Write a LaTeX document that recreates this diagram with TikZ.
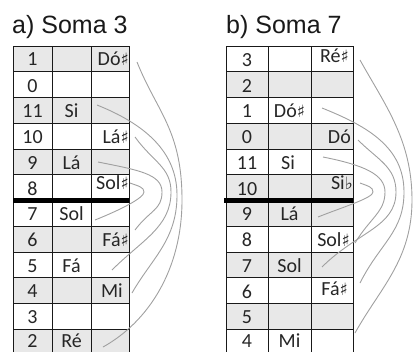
\documentclass[tikz,border=0pt]{standalone}
\usepackage{fontspec}
\setmainfont{Carlito}
\newfontfamily\titlefont{Liberation Sans}
\newfontfamily\symfont{DejaVu Sans}
\newcommand{\shp}{{\symfont\fontsize{17}{17}\selectfont ♯}}
\newcommand{\flt}{{\symfont\fontsize{17}{17}\selectfont ♭}}
\definecolor{cellgray}{RGB}{232,232,232}
\definecolor{curvegray}{RGB}{160,160,160}
\begin{document}
\begin{tikzpicture}[x=1pt,y=-1pt,
  cell/.style={font=\fontsize{20}{20}\selectfont, anchor=base, inner sep=0pt, text=black!85},
  rcell/.style={cell, anchor=base east},
  ttl/.style={font=\titlefont\fontsize{25}{25}\selectfont, anchor=base west, inner sep=0pt, text=black!90},
  gridline/.style={line width=1pt, black!90},
  thickline/.style={line width=4.5pt, black},
  curve/.style={draw=curvegray, line width=0.9pt}]
\useasboundingbox (0,0) rectangle (414,351);
\clip (0,0) rectangle (414,351);
\def\rh{25.75}
% ---------- titles
\node[ttl] (ta) at (12,33) {a) Soma 3};
\node[ttl] (tb) at (226,33) {b) Soma 7};
% ---------- table a
\foreach \i in {0,2,4,7,9,11}
  \fill[cellgray] (13,{46+\i*\rh}) rectangle (129,{46+(\i+1)*\rh});
\foreach \i in {0,...,12}
  \draw[gridline] (13,{46+\i*\rh}) -- (129,{46+\i*\rh});
\foreach \x in {13,52,91,129}
  \draw[gridline] (\x,46) -- (\x,356);
\draw[thickline] (13,200.5) -- (129,200.5);
% ---------- table b
\foreach \i in {1,3,5,6,8,10}
  \fill[cellgray] (226,{46+\i*\rh}) rectangle (353,{46+(\i+1)*\rh});
\foreach \i in {0,...,12}
  \draw[gridline] (226,{46+\i*\rh}) -- (353,{46+\i*\rh});
\foreach \x in {226,268,311,353}
  \draw[gridline] (\x,46) -- (\x,356);
\draw[thickline] (224,200.5) -- (353,200.5);
% ---------- texts a
\node[cell] (a0) at (32.5,65.5) {1};
\node[rcell] (a0s) at (129,65.5) {Dó\shp};
\node[cell] (a1) at (32.5,92.1) {0};
\node[cell] (a2) at (32.5,117.9) {11};
\node[cell] (a2n) at (71.5,117.9) {Si};
\node[cell] (a3) at (32.5,143.6) {10};
\node[rcell] (a3s) at (129,143.6) {Lá\shp};
\node[cell] (a4) at (32.5,169.4) {9};
\node[cell] (a4n) at (71.5,169.4) {Lá};
\node[cell] (a5) at (32.5,195.1) {8};
\node[rcell] (a5s) at (129,189) {Sol\shp};
\node[cell] (a6) at (32.5,220.5) {7};
\node[cell] (a6n) at (71.5,220.5) {Sol};
\node[cell] (a7) at (32.5,246.6) {6};
\node[rcell] (a7s) at (129,246.6) {Fá\shp};
\node[cell] (a8) at (32.5,272.4) {5};
\node[cell] (a8n) at (71.5,272.4) {Fá};
\node[cell] (a9) at (32.5,297) {4};
\node[rcell] (a9s) at (123,297) {Mi};
\node[cell] (a10) at (32.5,323.5) {3};
\node[cell] (a11) at (32.5,347) {2};
\node[cell] (a11n) at (71.5,347) {Ré};
% ---------- texts b
\node[cell] (b0) at (247,66.4) {3};
\node[rcell] (b0s) at (349,62) {Ré\shp};
\node[cell] (b1) at (247,92.1) {2};
\node[cell] (b2) at (247,117.9) {1};
\node[cell] (b2n) at (289.5,117.9) {Dó\shp};
\node[cell] (b3) at (247,143.6) {0};
\node[rcell] (b3s) at (351,143.6) {Dó};
\node[cell] (b4) at (247,169.4) {11};
\node[cell] (b4n) at (288,169.4) {Si};
\node[cell] (b5) at (247,195.1) {10};
\node[rcell] (b5s) at (353,189) {Si\flt};
\node[cell] (b6) at (247,220.9) {9};
\node[cell] (b6n) at (289.5,220.9) {Lá};
\node[cell] (b7) at (247,246.6) {8};
\node[rcell] (b7s) at (350,246.6) {Sol\shp};
\node[cell] (b8) at (247,272.4) {7};
\node[cell] (b8n) at (289.5,272.4) {Sol};
\node[cell] (b9) at (247,298.1) {6};
\node[rcell] (b9s) at (348,295.5) {Fá\shp};
\node[cell] (b10) at (247,323.5) {5};
\node[cell] (b11) at (247,347) {4};
\node[cell] (b11n) at (289.5,347) {Mi};
% ---------- curve end points a
\coordinate (ca1s) at (137,62);  \coordinate (ca1m) at (182,200); \coordinate (ca1e) at (103,347);
\coordinate (ca2s) at (97,105);  \coordinate (ca2m) at (177,195); \coordinate (ca2e) at (132,293);
\coordinate (ca3s) at (135,137); \coordinate (ca3m) at (171,192); \coordinate (ca3e) at (112,270);
\coordinate (ca4s) at (98,162);  \coordinate (ca4m) at (162,192); \coordinate (ca4e) at (135,230);
\coordinate (ca5s) at (130,183); \coordinate (ca5m) at (144,192); \coordinate (ca5e) at (95,220);
\draw[curve] (ca1s) .. controls +(20,50) and +(0,-70) .. (ca1m) .. controls +(0,70) and +(45,-25) .. (ca1e);
\draw[curve] (ca2s) .. controls +(45,18) and +(0,-45) .. (ca2m) .. controls +(0,45) and +(20,-35) .. (ca2e);
\draw[curve] (ca3s) .. controls +(18,25) and +(0,-25) .. (ca3m) .. controls +(0,35) and +(30,-30) .. (ca3e);
\draw[curve] (ca4s) .. controls +(40,8) and +(0,-18) .. (ca4m) .. controls +(0,18) and +(15,-20) .. (ca4e);
\draw[curve] (ca5s) .. controls +(8,3) and +(0,-5) .. (ca5m) .. controls +(0,6) and +(25,-10) .. (ca5e);
% ---------- curve end points b
\coordinate (cb1s) at (360,60);  \coordinate (cb1m) at (412,200); \coordinate (cb1e) at (355,333);
\coordinate (cb2s) at (322,108); \coordinate (cb2m) at (404,192); \coordinate (cb2e) at (360,283);
\coordinate (cb3s) at (358,140); \coordinate (cb3m) at (396,192); \coordinate (cb3e) at (322,267);
\coordinate (cb4s) at (323,157); \coordinate (cb4m) at (385,192); \coordinate (cb4e) at (355,243);
\coordinate (cb5s) at (360,183); \coordinate (cb5m) at (373,192); \coordinate (cb5e) at (318,217);
\draw[curve] (cb1s) .. controls +(25,45) and +(0,-60) .. (cb1m) .. controls +(0,60) and +(25,-45) .. (cb1e);
\draw[curve] (cb2s) .. controls +(45,18) and +(0,-45) .. (cb2m) .. controls +(0,40) and +(20,-40) .. (cb2e);
\draw[curve] (cb3s) .. controls +(20,20) and +(0,-25) .. (cb3m) .. controls +(0,35) and +(35,-35) .. (cb3e);
\draw[curve] (cb4s) .. controls +(40,8) and +(0,-18) .. (cb4m) .. controls +(0,20) and +(15,-25) .. (cb4e);
\draw[curve] (cb5s) .. controls +(8,3) and +(0,-5) .. (cb5m) .. controls +(0,6) and +(25,-10) .. (cb5e);
\end{tikzpicture}
\end{document}
